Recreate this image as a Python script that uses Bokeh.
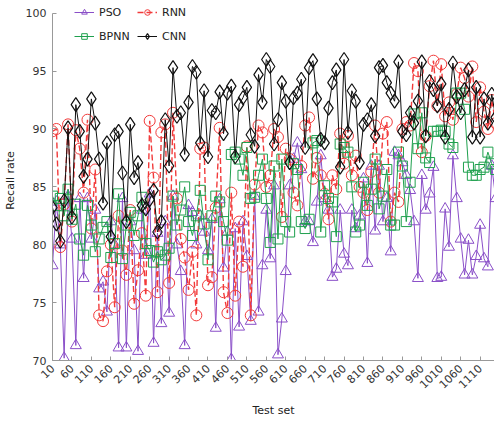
import math
from bokeh.plotting import figure
from bokeh.models import FixedTicker, Legend, LegendItem, ColumnDataSource
from bokeh.embed import file_html
from bokeh.resources import INLINE

# ---------------- data ----------------
test_set = list(range(10, 1160, 10))  # 115 test sets

x_ticks = list(range(10, 1210, 50))
y_ticks = [70, 75, 80, 85, 90, 95, 100]

pso = [
    78.2, 83.7, 80.0, 70.2, 84.2, 80.5, 71.3, 84.0, 77.1, 84.0,
    80.5, 83.0, 76.2, 76.8, 74.2, 82.0, 80.0, 71.1, 84.0, 71.1,
    82.0, 79.5, 70.8, 83.0, 79.1, 84.4, 71.5, 81.0, 73.2, 82.0,
    74.1, 84.2, 80.0, 77.7, 71.3, 83.4, 82.8, 80.0, 82.5, 81.1,
    79.5, 82.2, 72.8, 83.9, 78.0, 81.1, 70.1, 81.4, 72.9, 82.0,
    79.0, 73.4, 84.2, 74.2, 78.2, 83.0, 78.8, 85.1, 70.5, 73.6,
    77.7, 85.1, 87.4, 88.8, 86.5, 82.0, 82.0, 80.2, 83.7, 87.7,
    84.0, 83.0, 77.2, 77.9, 83.0, 79.2, 78.2, 83.0, 81.4, 82.5,
    85.7, 78.4, 86.8, 81.2, 86.8, 82.0, 84.0, 79.4, 88.0, 87.7,
    87.1, 86.0, 84.7, 82.0, 77.1, 86.0, 83.0, 84.4, 86.7, 77.1,
    77.2, 83.1, 79.8, 87.7, 84.0, 80.5, 77.4, 80.4, 77.4, 79.0,
    81.7, 78.8, 78.1, 86.8, 84.0,
]

rnn = [
    89.8, 90.0, 79.8, 83.5, 90.4, 82.0, 89.9, 88.3, 84.5, 90.8,
    81.4, 86.5, 73.9, 73.4, 77.7, 80.0, 74.6, 82.5, 79.5, 77.4,
    83.0, 74.9, 77.8, 81.0, 75.6, 90.7, 85.8, 75.9, 89.7, 90.4,
    76.7, 91.4, 84.0, 80.5, 78.9, 76.1, 79.4, 73.9, 88.3, 88.4,
    76.5, 77.2, 83.2, 90.1, 75.9, 74.1, 84.5, 75.6, 82.0, 78.1,
    88.5, 73.9, 85.2, 90.3, 89.7, 85.0, 86.0, 90.0, 89.3, 82.4,
    88.3, 87.4, 84.5, 83.4, 86.8, 90.3, 91.0, 85.7, 87.5, 86.0,
    84.4, 82.2, 86.0, 84.8, 89.6, 87.0, 89.4, 86.0, 87.7, 85.0,
    84.5, 83.0, 86.3, 90.3, 84.5, 89.6, 90.6, 82.0, 84.5, 83.7,
    90.0, 90.6, 90.3, 95.7, 95.0, 88.0, 89.4, 93.7, 95.9, 92.0,
    95.6, 91.1, 92.3, 90.8, 93.0, 95.3, 94.4, 92.8, 95.4, 90.6,
    93.6, 91.5, 90.0, 92.5, 90.5,
]

bpnn = [
    84.2, 83.4, 84.0, 82.5, 84.8, 82.2, 83.5, 80.5, 79.1, 83.4,
    81.7, 79.4, 80.5, 81.5, 82.0, 78.9, 80.1, 84.4, 78.8, 81.7,
    82.8, 80.8, 82.5, 84.1, 80.1, 79.5, 78.5, 79.4, 78.7, 79.1,
    79.7, 84.2, 81.7, 83.0, 85.0, 82.0, 80.8, 82.5, 84.7, 81.8,
    78.7, 82.5, 84.2, 83.7, 82.0, 80.4, 87.8, 88.0, 87.4, 86.0,
    88.4, 84.0, 84.1, 86.0, 87.4, 84.0, 80.2, 86.8, 80.5, 87.4,
    82.0, 81.1, 87.0, 86.5, 82.0, 81.4, 82.2, 88.8, 89.0, 81.1,
    85.1, 84.0, 83.7, 80.7, 88.7, 88.4, 88.0, 85.0, 81.1, 81.7,
    85.4, 83.4, 84.8, 87.4, 83.1, 84.2, 86.5, 81.7, 81.7, 88.0,
    86.8, 82.0, 85.4, 91.3, 88.3, 91.4, 87.5, 87.1, 89.8, 89.8,
    89.9, 89.8, 88.7, 88.4, 93.1, 93.1, 91.7, 86.7, 86.0, 86.0,
    86.5, 86.7, 88.0, 87.0, 86.5,
]

cnn = [
    83.2, 81.8, 80.3, 83.8, 90.1, 82.4, 92.1, 89.8, 85.9, 87.4,
    92.6, 90.5, 87.4, 83.6, 88.8, 80.7, 89.5, 89.8, 86.2, 82.0,
    90.4, 85.8, 87.1, 83.4, 83.1, 83.9, 84.7, 81.1, 82.0, 90.8,
    86.8, 95.3, 91.1, 91.4, 87.8, 92.3, 95.4, 94.9, 88.8, 93.3,
    87.6, 91.6, 91.4, 93.2, 89.6, 93.1, 93.7, 87.6, 92.1, 92.7,
    93.6, 89.5, 88.5, 94.7, 92.3, 96.0, 95.4, 88.7, 90.8, 94.0,
    92.4, 87.1, 92.7, 93.1, 94.3, 88.4, 95.3, 95.9, 92.6, 89.1,
    88.8, 91.8, 94.0, 95.1, 86.7, 96.0, 89.7, 93.3, 92.4, 87.1,
    90.4, 90.8, 92.1, 89.4, 95.3, 95.5, 94.0, 93.1, 92.4, 95.8,
    89.8, 89.5, 91.4, 90.5, 92.4, 95.8, 89.4, 94.1, 93.4, 92.0,
    93.9, 89.3, 91.7, 95.7, 92.8, 91.4, 93.4, 95.1, 89.3, 93.6,
    89.3, 92.6, 90.5, 93.0, 91.0,
]

series_names = ["PSO", "RNN", "BPNN", "CNN"]

# ---------------- figure ----------------
# frame extends a little above 100 so the legend (clipped to the frame) fits;
# the axis line itself stops at 100 via bounds
p = figure(width=494, height=419, x_range=(10, 1147), y_range=(70, 101.1),
           output_backend="svg", toolbar_location=None,
           min_border_left=45, min_border_right=0, min_border_top=0,
           min_border_bottom=52)
p.outline_line_color = None
p.xgrid.visible = False
p.ygrid.visible = False

src = ColumnDataSource(dict(x=test_set, pso=pso, rnn=rnn, bpnn=bpnn, cnn=cnn))

purple = "#8a4fc8"
red = "#f23a3a"
green = "#1fa04e"
black = "#111111"

l_pso = p.line("x", "pso", source=src, line_color=purple, line_width=1)
m_pso = p.scatter("x", "pso", source=src, marker="triangle", size=11,
                  line_color=purple, fill_color=None, line_width=1)
l_rnn = p.line("x", "rnn", source=src, line_color=red, line_width=1.4,
               line_dash="6 3")
m_rnn = p.scatter("x", "rnn", source=src, marker="circle", size=11,
                  line_color=red, fill_color=None, line_width=1)
l_bp = p.line("x", "bpnn", source=src, line_color=green, line_width=1)
m_bp = p.scatter("x", "bpnn", source=src, marker="square", size=10,
                 line_color=green, fill_color=None, line_width=1)
l_cnn = p.line("x", "cnn", source=src, line_color=black, line_width=1)
m_cnn = p.scatter("x", "cnn", source=src, marker="diamond", size=14,
                  line_color=black, fill_color=None, line_width=1.2)

# ---------------- axes ----------------
font = "DejaVu Sans"
p.xaxis.ticker = FixedTicker(ticks=x_ticks)
p.yaxis.ticker = FixedTicker(ticks=y_ticks)
p.yaxis.bounds = (y_ticks[0], y_ticks[-1])
p.xaxis.major_label_orientation = math.pi / 4
for ax in (p.xaxis[0], p.yaxis[0]):
    ax.axis_line_color = "#999999"
    ax.major_tick_line_color = "#999999"
    ax.major_tick_in = 4
    ax.major_tick_out = 0
    ax.minor_tick_line_color = None
    ax.major_label_text_font = font
    ax.major_label_text_font_size = "11px"
    ax.major_label_text_color = "#333333"
    ax.axis_label_text_font = font
    ax.axis_label_text_font_size = "11px"
    ax.axis_label_text_font_style = "normal"
    ax.axis_label_text_color = "#222222"
p.xaxis.axis_label = "Test set"
p.yaxis.axis_label = "Recall rate"
p.yaxis.major_label_standoff = 6
p.xaxis.major_label_standoff = 6
p.yaxis.axis_label_standoff = 6
p.xaxis.axis_label_standoff = 9

# ---------------- legend (2 x 2 grid) ----------------
def make_legend(items, xloc):
    lg = Legend(items=items, location=(xloc, 314), orientation="vertical",
                glyph_width=20, glyph_height=14, label_height=20,
                spacing=4, padding=0, margin=0, label_standoff=5,
                border_line_color=None, background_fill_alpha=0,
                label_text_font=font, label_text_font_size="11px",
                label_text_color="#222222")
    return lg

leg1 = make_legend([LegendItem(label=series_names[0], renderers=[l_pso, m_pso]),
                    LegendItem(label=series_names[2], renderers=[l_bp, m_bp])], 22)
leg2 = make_legend([LegendItem(label=series_names[1], renderers=[l_rnn, m_rnn]),
                    LegendItem(label=series_names[3], renderers=[l_cnn, m_cnn])], 85)
p.add_layout(leg1, "center")
p.add_layout(leg2, "center")

open("out.html", "w").write(file_html(p, INLINE))
